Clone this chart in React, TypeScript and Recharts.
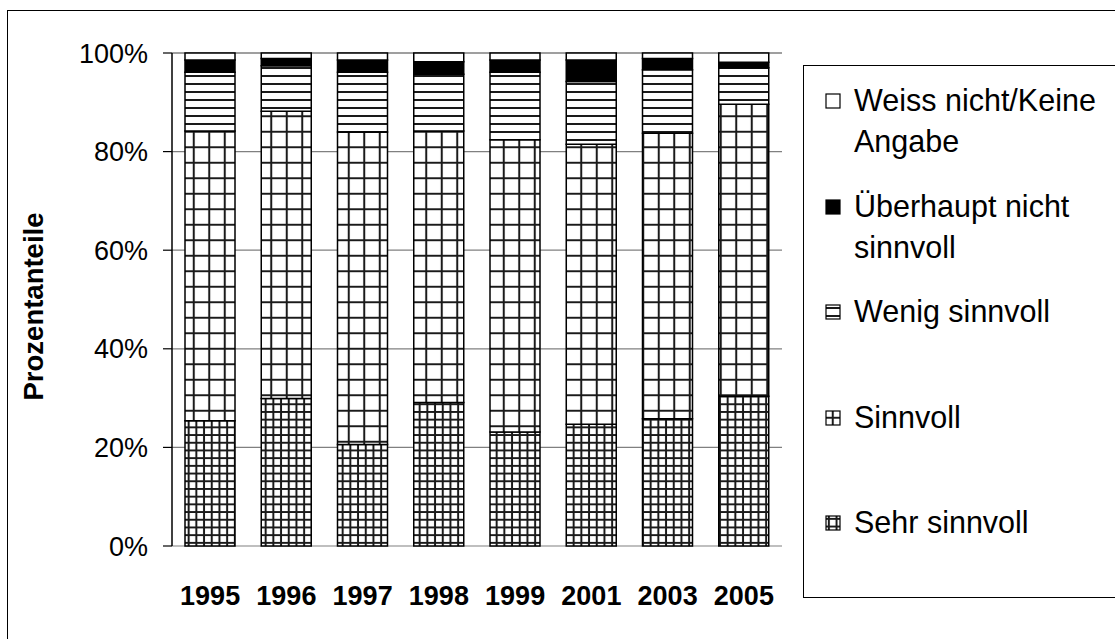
import React from "react";
import {
  Bar,
  BarChart,
  CartesianGrid,
  Legend,
  XAxis,
  YAxis
} from "recharts";

const years = ["1995", "1996", "1997", "1998", "1999", "2001", "2003", "2005"];

const sehrSinnvoll = [25.4, 29.9, 20.6, 29.1, 23.1, 24.7, 25.8, 30.4];
const sinnvoll = [58.8, 58.3, 63.4, 55.1, 59.3, 56.8, 57.9, 59.2];
const wenigSinnvoll = [11.9, 9.2, 12.1, 11.5, 13.7, 12.7, 12.9, 7.4];
const ueberhauptNicht = [2.5, 1.5, 2.5, 2.5, 2.5, 4.4, 2.3, 1.1];
const weissNicht = [1.4, 1.1, 1.4, 1.8, 1.4, 1.4, 1.1, 1.9];

const yTicks = [0, 20, 40, 60, 80, 100];

const data = years.map((year, i) => ({
  year,
  sehr: sehrSinnvoll[i],
  sinn: sinnvoll[i],
  wenig: wenigSinnvoll[i],
  ueber: ueberhauptNicht[i],
  weiss: weissNicht[i]
}));

// bottom to top
const series = [
  { key: "sehr", name: "Sehr sinnvoll", fill: "url(#patSehr)" },
  { key: "sinn", name: "Sinnvoll", fill: "url(#patSinn)" },
  { key: "wenig", name: "Wenig sinnvoll", fill: "url(#patWenig)" },
  { key: "ueber", name: "Überhaupt nicht sinnvoll", fill: "#000" },
  { key: "weiss", name: "Weiss nicht/Keine Angabe", fill: "#fff" }
];

// tick marks sit between the categories
const boundaryTicks = years.map((_, i) => i).concat(years.length);

const FONT = '"Liberation Sans", Arial, sans-serif';

const LegendBox = () => (
  <div
    style={{
      position: "relative",
      width: 400,
      height: 533,
      border: "1.5px solid #000",
      boxSizing: "border-box",
      background: "#fff",
      fontFamily: FONT,
      fontSize: 30.5,
      color: "#000"
    }}
  >
    {[...series].reverse().map((s, i) => (
      <div
        key={s.key}
        style={{
          position: "absolute",
          left: 21,
          top: 14 + i * 105.5,
          display: "flex",
          alignItems: "flex-start"
        }}
      >
        <svg width={16} height={16} style={{ marginTop: 13, marginRight: 13 }}>
          <rect x={1} y={1} width={14} height={14} fill={s.fill} stroke="#000" strokeWidth={1.2} />
        </svg>
        <div style={{ width: 258, lineHeight: "41px" }}>{s.name}</div>
      </div>
    ))}
  </div>
);

const YLabel = (props: any) => {
  const vb = props.viewBox || {};
  const cx = 33;
  const cy = (vb.y ?? 53) + (vb.height ?? 493) / 2 + 7;
  return (
    <text
      x={cx}
      y={cy}
      transform={`rotate(-90, ${cx}, ${cy})`}
      textAnchor="middle"
      dominantBaseline="central"
      fontSize={27.5}
      fontWeight={700}
      fill="#000"
      fontFamily={FONT}
    >
      Prozentanteile
    </text>
  );
};

const App: React.FC = () => {
  return (
    <div
      style={{
        position: "absolute",
        left: 0,
        top: 0,
        width: 1115,
        height: 639,
        overflow: "hidden",
        background: "#fff",
        fontFamily: FONT
      }}
    >
      <div
        style={{
          position: "absolute",
          left: 7,
          top: 10,
          width: 1300,
          height: 800,
          border: "1.5px solid #000",
          boxSizing: "border-box"
        }}
      />
      <div style={{ position: "absolute", left: 0, top: 0 }}>
        <BarChart
          width={1115}
          height={639}
          data={data}
          margin={{ top: 53, right: 333, left: 0, bottom: 0 }}
          barSize={50}
        >
          <defs>
            <pattern id="patSehr" width={7.7} height={7.7} patternUnits="userSpaceOnUse">
              <rect width={7.7} height={7.7} fill="#fff" />
              <path d="M0 3.85H7.7M3.85 0V7.7" stroke="#1a1a1a" strokeWidth={2} />
            </pattern>
            <pattern id="patSinn" width={15.5} height={15.5} patternUnits="userSpaceOnUse">
              <rect width={15.5} height={15.5} fill="#fff" />
              <path d="M0 7.75H15.5M7.75 0V15.5" stroke="#1a1a1a" strokeWidth={2} />
            </pattern>
            <pattern id="patWenig" width={8} height={8} patternUnits="userSpaceOnUse">
              <rect width={8} height={8} fill="#fff" />
              <path d="M0 4H8" stroke="#1a1a1a" strokeWidth={2} />
            </pattern>
          </defs>
          <CartesianGrid vertical={false} stroke="#808080" strokeWidth={1.2} />
          <XAxis
            xAxisId="bounds"
            type="number"
            domain={[0, years.length]}
            ticks={boundaryTicks}
            tick={false}
            tickSize={9}
            height={0}
            axisLine={{ stroke: "#000", strokeWidth: 1.5 }}
            tickLine={{ stroke: "#000", strokeWidth: 1.2 }}
          />
          <XAxis
            dataKey="year"
            height={93}
            interval={0}
            axisLine={false}
            tickLine={false}
            tickSize={0}
            tickMargin={40}
            tick={{ fontSize: 27, fontWeight: 700, fill: "#000", fontFamily: FONT }}
          />
          <YAxis
            width={172}
            domain={[0, 100]}
            ticks={yTicks}
            interval={0}
            tickSize={9}
            tickMargin={15}
            tickFormatter={(v) => `${v}%`}
            tick={{ fontSize: 27, fill: "#000", fontFamily: FONT }}
            axisLine={{ stroke: "#000", strokeWidth: 1.5 }}
            tickLine={{ stroke: "#000", strokeWidth: 1.2 }}
            label={<YLabel />}
          />
          <YAxis
            yAxisId="frame"
            orientation="right"
            width={0}
            domain={[0, 100]}
            tick={false}
            tickLine={false}
            axisLine={{ stroke: "#404040", strokeWidth: 1.5 }}
          />
          <Legend
            layout="vertical"
            align="center"
            verticalAlign="middle"
            content={<LegendBox />}
            wrapperStyle={{ left: 803, top: 65, width: 400, height: 533 }}
          />
          {series.map((s) => (
            <Bar
              key={s.key}
              dataKey={s.key}
              name={s.name}
              stackId="a"
              fill={s.fill}
              stroke="#000"
              strokeWidth={1.5}
              isAnimationActive={false}
            />
          ))}
        </BarChart>
      </div>
    </div>
  );
};

export default App;
